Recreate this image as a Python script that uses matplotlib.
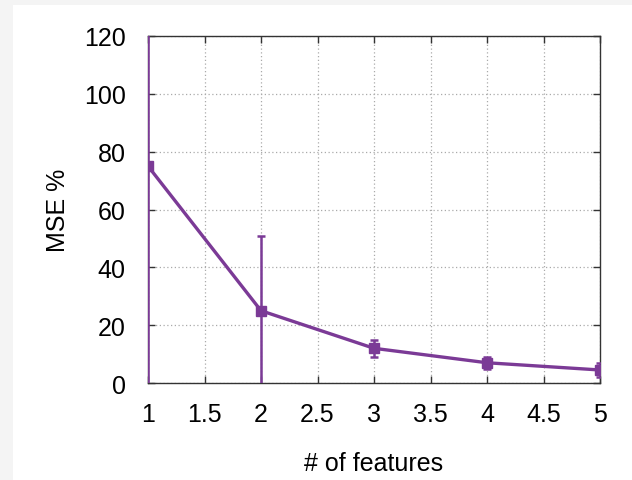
import matplotlib
matplotlib.use("Agg")
import matplotlib.pyplot as plt
from matplotlib.patches import Rectangle

n_features = [1, 2, 3, 4, 5]
mse = [75, 25, 12, 7, 4.5]
mse_err = [80, 26, 3, 2, 2.5]
x_ticks = [1, 1.5, 2, 2.5, 3, 3.5, 4, 4.5, 5]
y_ticks = [0, 20, 40, 60, 80, 100, 120]

plt.rcParams['font.family'] = ['Liberation Sans', 'DejaVu Sans']
color = '#7b3a96'

fig = plt.figure(figsize=(6.32, 4.81), dpi=100, facecolor='#f4f4f4')
fig.patches.append(Rectangle((13/632, 0), 1 - 13/632, 1 - 6/481,
                             transform=fig.transFigure, facecolor='white',
                             edgecolor='none', zorder=-10))
ax = fig.add_axes([148/632, 1 - 384/481, (600 - 148)/632, (384 - 37)/481])
ax.set_facecolor('white')

ax.errorbar(n_features, mse, yerr=mse_err, color=color, lw=2.4, marker='s',
            ms=7, capsize=3, elinewidth=1.8, capthick=1.8, clip_on=True, zorder=3)

ax.set_xlim(1, 5)
ax.set_ylim(0, 120)
ax.set_xticks(x_ticks)
ax.set_xticklabels([('%g' % t) for t in x_ticks])
ax.set_yticks(y_ticks)
ax.grid(True, linestyle=(0, (1, 2)), color='#aaaaaa', lw=0.9)
ax.tick_params(direction='in', length=5, width=1, top=True, right=True,
               labelsize=18, colors='#333333', labelcolor='black')
ax.tick_params(axis='x', pad=14)
ax.tick_params(axis='y', pad=16)
for s in ax.spines.values():
    s.set_color('#333333')
    s.set_linewidth(1.0)

ax.set_xlabel('# of features', fontsize=18, labelpad=18)
ax.set_ylabel('MSE %', fontsize=18, labelpad=10)

fig.savefig('out.png', dpi=100, facecolor=fig.get_facecolor())
